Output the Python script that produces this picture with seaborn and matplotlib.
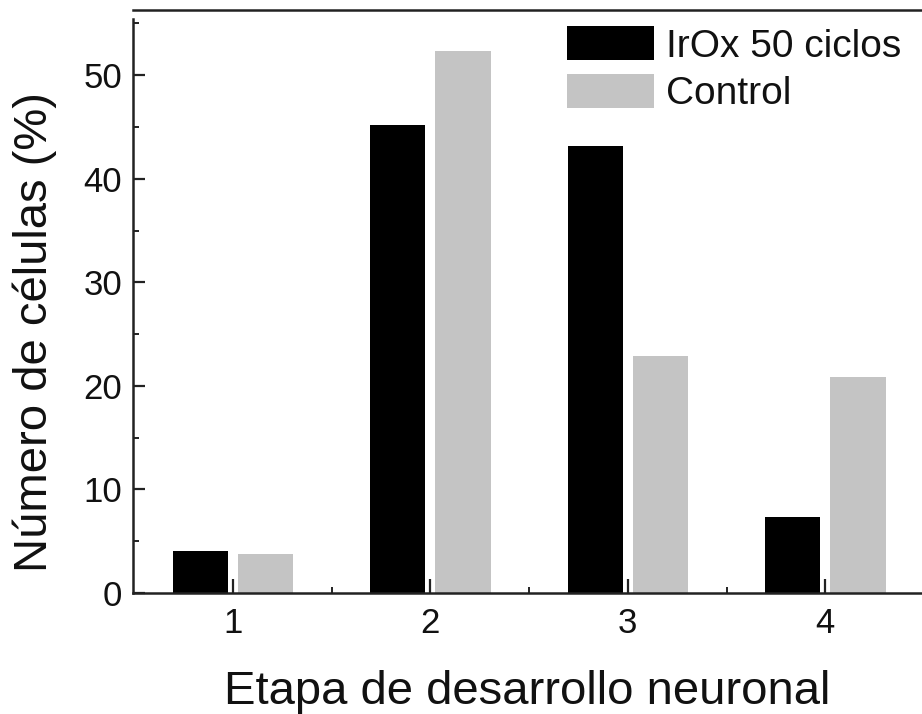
import matplotlib
matplotlib.use("Agg")
import matplotlib.pyplot as plt
from matplotlib.ticker import MultipleLocator, FixedLocator
import seaborn as sns
import pandas as pd

# Developmental stage categories and percentage of cells per group
stages = ["1", "2", "3", "4"]
irox_50 = [4.1, 45.2, 43.2, 7.3]
control = [3.8, 52.3, 22.9, 20.9]
groups = ["IrOx 50 ciclos", "Control"]
y_ticks = [0, 10, 20, 30, 40, 50]

df = pd.DataFrame({
    "Etapa": stages * 2,
    "Porcentaje": irox_50 + control,
    "Grupo": [groups[0]] * len(stages) + [groups[1]] * len(stages),
})

sns.set_style("ticks")
plt.rcParams["font.family"] = ["Liberation Sans", "DejaVu Sans"]
plt.rcParams["text.color"] = "#111111"

fig = plt.figure(figsize=(9.22, 7.14), dpi=100)
ax = fig.add_axes([0.1443, 0.1695, 0.8557, 0.8165])

sns.barplot(
    data=df, x="Etapa", y="Porcentaje", hue="Grupo", order=stages,
    hue_order=groups, palette=["#000000", "#c4c4c4"], width=0.66, gap=0.15,
    linewidth=0, saturation=1, ax=ax,
)

ax.set_xlim(-0.506, 3.49)
ax.set_ylim(0, 56.3)
ax.set_yticks(y_ticks)
ax.yaxis.set_minor_locator(MultipleLocator(5))
ax.xaxis.set_minor_locator(FixedLocator([0.5, 1.5, 2.5]))

ax.set_xlabel("Etapa de desarrollo neuronal", fontsize=34, labelpad=22, color="#111111")
ax.set_ylabel("Número de células (%)", fontsize=34, color="#111111")
ax.yaxis.set_label_coords(-0.097, 0.448)

ax.tick_params(axis="both", which="major", direction="in", labelsize=25,
               width=1.6, colors="#222222", labelcolor="#111111")
ax.tick_params(axis="y", which="major", length=8.5, pad=8)
ax.tick_params(axis="x", which="major", length=10, pad=10)
ax.tick_params(axis="both", which="minor", direction="in", length=4.5,
               width=1.4, colors="#222222")

for side in ["left", "bottom", "top"]:
    ax.spines[side].set_linewidth(1.8)
    ax.spines[side].set_color("#222222")
ax.spines["right"].set_visible(False)
ax.spines["left"].set_bounds(0, 55.4)

handles, labels = ax.get_legend_handles_labels()
ax.legend(handles, labels, loc="upper right", bbox_to_anchor=(0.978, 0.963),
          bbox_transform=fig.transFigure, frameon=False, fontsize=28,
          handlelength=2.26, handleheight=0.95, handletextpad=0.31,
          labelspacing=0.25, borderpad=0, borderaxespad=0)

fig.savefig("out.png", dpi=100)
